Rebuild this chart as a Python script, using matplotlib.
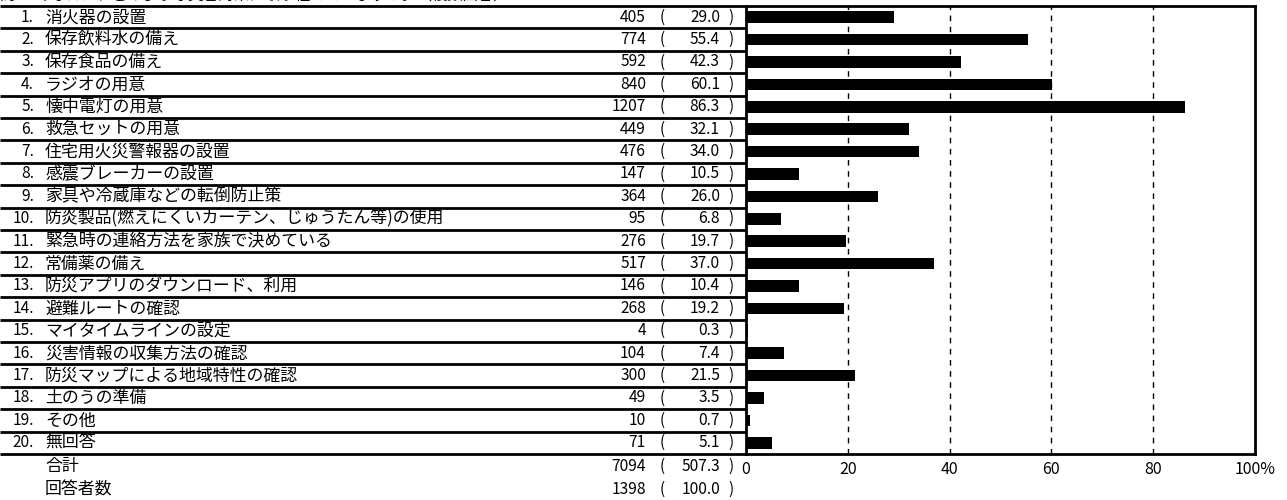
import matplotlib
matplotlib.use("Agg")
import matplotlib.pyplot as plt
import matplotlib.transforms as mtransforms
import numpy as np

plt.rcParams['font.family'] = ['Noto Sans CJK JP', 'DejaVu Sans']

title = "問33 あなたは、どのような災害対策に取り組んでいますか。（複数回答）"

labels = [
    "消火器の設置",
    "保存飲料水の備え",
    "保存食品の備え",
    "ラジオの用意",
    "懐中電灯の用意",
    "救急セットの用意",
    "住宅用火災警報器の設置",
    "感震ブレーカーの設置",
    "家具や冷蔵庫などの転倒防止策",
    "防炎製品(燃えにくいカーテン、じゅうたん等)の使用",
    "緊急時の連絡方法を家族で決めている",
    "常備薬の備え",
    "防災アプリのダウンロード、利用",
    "避難ルートの確認",
    "マイタイムラインの設定",
    "災害情報の収集方法の確認",
    "防災マップによる地域特性の確認",
    "土のうの準備",
    "その他",
    "無回答",
]
counts = [405, 774, 592, 840, 1207, 449, 476, 147, 364, 95,
          276, 517, 146, 268, 4, 104, 300, 49, 10, 71]
pcts = [29.0, 55.4, 42.3, 60.1, 86.3, 32.1, 34.0, 10.5, 26.0, 6.8,
        19.7, 37.0, 10.4, 19.2, 0.3, 7.4, 21.5, 3.5, 0.7, 5.1]
total_labels = ["合計", "回答者数"]
total_counts = [7094, 1398]
total_pcts = [507.3, 100.0]

ticks = [0, 20, 40, 60, 80, 100]
tick_labels = ["0", "20", "40", "60", "80", "100%"]

W, H = 1287, 500
fig = plt.figure(figsize=(W / 100, H / 100), dpi=100)

left_px, right_px = 746, 1255
top_px, bot_px = 6, 454
ax = fig.add_axes([left_px / W, 1 - bot_px / H,
                   (right_px - left_px) / W, (bot_px - top_px) / H])

y = np.arange(len(labels))
ax.barh(y, pcts, height=0.52, color='black')
ax.set_xlim(0, 100)
ax.set_ylim(len(labels) - 0.5, -0.5)
ax.set_yticks([])
ax.set_xticks(ticks)
ax.set_xticklabels(tick_labels, fontsize=11.5)
ax.tick_params(axis='x', length=0, pad=5)
for g in ticks[1:-1]:
    ax.axvline(g, color='black', lw=1, ls=(0, (4, 4)), zorder=0)
for s in ax.spines.values():
    s.set_linewidth(2)

trans = mtransforms.blended_transform_factory(fig.transFigure, ax.transData)
fx = lambda px: px / W

# row separators in the table part
ax.hlines(np.arange(len(labels) + 1) - 0.5, 0, fx(left_px), transform=trans,
          color='black', lw=2, clip_on=False)

fs_lab = 12.2
fs_num = 11.2
def row_text(yy, num, lab, cnt, pct):
    kw = dict(transform=trans, va='center', clip_on=False)
    if num:
        ax.text(fx(34), yy, num, ha='right', fontsize=fs_num, **kw)
    ax.text(fx(45), yy, lab, ha='left', fontsize=fs_lab, **kw)
    ax.text(fx(646), yy, str(cnt), ha='right', fontsize=fs_num, **kw)
    ax.text(fx(660), yy, "(", ha='left', fontsize=fs_num, **kw)
    ax.text(fx(720), yy, f"{pct:.1f}", ha='right', fontsize=fs_num, **kw)
    ax.text(fx(728), yy, ")", ha='left', fontsize=fs_num, **kw)

for i, (lab, c, p) in enumerate(zip(labels, counts, pcts)):
    row_text(i, f"{i + 1}.", lab, c, p)

for k, (lab, c, p) in enumerate(zip(total_labels, total_counts, total_pcts)):
    row_text(len(labels) + 0.04 + k * 1.03, "", lab, c, p)

fig.text(0.0, 1 + 5 / H, title, ha='left', va='center', fontsize=11)

fig.savefig("out.png", dpi=100)
